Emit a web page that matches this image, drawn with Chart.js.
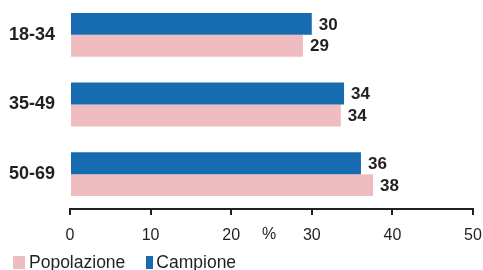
<!DOCTYPE html>
<html>
<head>
<meta charset="utf-8">
<script src="https://cdn.jsdelivr.net/npm/chart.js@4"></script>
<style>
  html, body { margin: 0; padding: 0; background: #fff; }
  #wrap { width: 483px; height: 270px; position: relative; }
  #legend {
    position: absolute; left: 13px; top: 254px;
    font: 17.5px 'Liberation Sans', Arial, sans-serif; color: #231f20;
    line-height: 17px; white-space: nowrap;
  }
  #legend .box { display: inline-block; height: 13px; vertical-align: -1px; }
  #legend .txt { display: inline-block; }
</style>
</head>
<body>
<div id="wrap">
  <canvas id="chart"></canvas>
  <div id="legend"></div>
</div>
<script>
const categories = ['18-34', '35-49', '50-69'];
const campione = [30.0, 34.0, 36.1];
const popolazione = [28.9, 33.6, 37.6];
const xTicks = [0, 10, 20, 30, 40, 50];

const FONT = "'Liberation Sans', Arial, sans-serif";
const BLUE = '#176cb1';
const PINK = '#efbcc0';

// value labels at the end of each bar
const valueLabels = {
    id: 'valueLabels',
    afterDatasetsDraw(chart) {
        const ctx = chart.ctx;
        ctx.save();
        ctx.font = 'bold 17px ' + FONT;
        ctx.fillStyle = '#231f20';
        ctx.textBaseline = 'middle';
        ctx.textAlign = 'left';
        chart.data.datasets.forEach((ds, i) => {
            chart.getDatasetMeta(i).data.forEach((bar, j) => {
                ctx.fillText(Math.round(ds.data[j]), bar.x + 7, bar.y + 1);
            });
        });
        ctx.restore();
    }
};

// "%" unit sitting among the tick labels
const unitLabel = {
    id: 'unitLabel',
    afterDraw(chart) {
        const ctx = chart.ctx;
        const x = chart.scales.x;
        ctx.save();
        ctx.font = '16px ' + FONT;
        ctx.fillStyle = '#231f20';
        ctx.textAlign = 'center';
        ctx.textBaseline = 'middle';
        ctx.fillText('%', x.getPixelForValue(24.7), 235);
        ctx.restore();
    }
};

new Chart(document.getElementById('chart'), {
    type: 'bar',
    data: {
        labels: categories,
        datasets: [
            { label: 'Campione', data: campione, backgroundColor: BLUE },
            { label: 'Popolazione', data: popolazione, backgroundColor: PINK }
        ]
    },
    options: {
        indexAxis: 'y',
        responsive: true,
        maintainAspectRatio: false,
        animation: false,
        categoryPercentage: 0.63,
        barPercentage: 1.0,
        layout: { padding: 0 },
        scales: {
            y: {
                grid: { display: false, drawTicks: false },
                border: { display: false },
                ticks: {
                    padding: 15,
                    color: '#231f20',
                    font: { family: FONT, size: 18, weight: 'bold' }
                },
                afterFit(scale) {
                    scale.width = 70;
                    scale.paddingTop = 0;
                    scale.paddingBottom = 0;
                }
            },
            x: {
                min: 0,
                max: 50,
                afterBuildTicks(scale) {
                    scale.ticks = xTicks.map(v => ({ value: v }));
                },
                grid: {
                    drawOnChartArea: false,
                    drawTicks: true,
                    tickLength: 6,
                    color: '#231f20',
                    lineWidth: 2
                },
                border: { display: true, color: '#231f20', width: 2 },
                ticks: {
                    padding: 11,
                    color: '#231f20',
                    font: { family: FONT, size: 16 }
                },
                afterFit(scale) {
                    scale.height = 61;
                    scale.paddingLeft = 0;
                    scale.paddingRight = 10;
                }
            }
        },
        plugins: {
            legend: { display: false },
            tooltip: { enabled: false }
        }
    },
    plugins: [valueLabels, unitLabel]
});

// legend drawn as html text, Popolazione first
const legendItems = [
    { label: 'Popolazione', color: PINK, w: 12, gap: 4 },
    { label: 'Campione', color: BLUE, w: 7, gap: 3 }
];
const legend = document.getElementById('legend');
legendItems.forEach((it, i) => {
    const box = document.createElement('span');
    box.className = 'box';
    box.style.width = it.w + 'px';
    box.style.background = it.color;
    box.style.marginLeft = i > 0 ? '21px' : '0';
    box.style.marginRight = it.gap + 'px';
    const txt = document.createElement('span');
    txt.className = 'txt';
    txt.textContent = it.label;
    legend.appendChild(box);
    legend.appendChild(txt);
});
</script>
</body>
</html>
